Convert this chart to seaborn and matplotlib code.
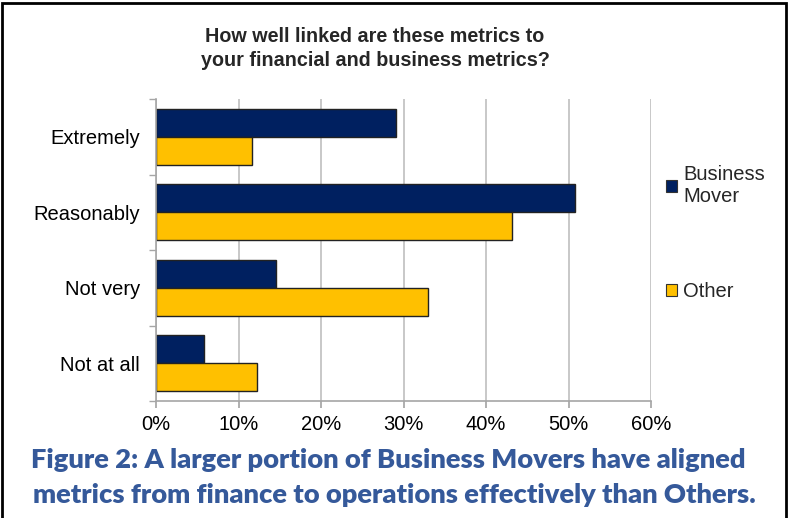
import matplotlib
matplotlib.use("Agg")
import matplotlib.pyplot as plt
import seaborn as sns
import pandas as pd
from matplotlib.patches import Rectangle
from matplotlib.ticker import PercentFormatter

categories = ["Extremely", "Reasonably", "Not very", "Not at all"]
business_mover = [29.1, 50.8, 14.5, 5.8]
other = [11.6, 43.2, 33.0, 12.2]
series_names = ["Business\nMover", "Other"]
x_ticks = [0, 10, 20, 30, 40, 50, 60]

df = pd.DataFrame({
    "Category": categories * 2,
    "Value": business_mover + other,
    "Series": [series_names[0]] * 4 + [series_names[1]] * 4,
})

sns.set_theme(style="white")
plt.rcParams["font.family"] = ["Liberation Sans", "DejaVu Sans"]

fig = plt.figure(figsize=(7.89, 5.18), dpi=100)
ax = fig.add_axes([156 / 789, 1 - 401 / 518, (651 - 156) / 789, (401 - 99) / 518])

sns.barplot(data=df, y="Category", x="Value", hue="Series", orient="h",
            palette=["#002060", "#FFC000"], width=0.74, ax=ax,
            edgecolor="#222222", linewidth=1.0, saturation=1, legend=True)

ax.set_xlim(0, 60)
ax.set_ylim(3.5, -0.5)
ax.set_xticks(x_ticks)
ax.xaxis.set_major_formatter(PercentFormatter(decimals=0))
ax.set_xlabel("")
ax.set_ylabel("")
ax.grid(axis="x", color="#BFBFBF", linewidth=1.2)
ax.set_axisbelow(True)
for s in ["top", "right"]:
    ax.spines[s].set_visible(False)
for s in ["left", "bottom"]:
    ax.spines[s].set_color("#A6A6A6")
    ax.spines[s].set_linewidth(1.2)

ax.tick_params(axis="x", which="major", bottom=True, length=5, color="#A6A6A6",
               labelsize=14.5, pad=5, labelcolor="#000000")
ax.set_yticks([0, 1, 2, 3])
ax.set_yticklabels(categories)
ax.tick_params(axis="y", which="major", left=False, labelsize=14.5, pad=5.5, labelcolor="#000000")
ax.set_yticks([-0.5, 0.5, 1.5, 2.5, 3.5], minor=True)
ax.tick_params(axis="y", which="minor", left=True, length=5, color="#A6A6A6")

leg = ax.legend(loc="upper left", bbox_to_anchor=(1.03, 0.78), frameon=False,
                fontsize=14.5, labelspacing=3.75, handlelength=0.55, handleheight=0.55,
                handletextpad=0.3, borderaxespad=0, borderpad=0)
for h in leg.legend_handles:
    h.set_edgecolor("#333333")
    h.set_linewidth(0.8)

fig.text(375 / 789, 1 - 37 / 518, "How well linked are these metrics to",
         ha="center", va="center", fontsize=14.2, fontweight="bold")
fig.text(375 / 789, 1 - 60 / 518, "your financial and business metrics?",
         ha="center", va="center", fontsize=14.2, fontweight="bold")

cap_color = "#35599A"
fig.text(388 / 789, 1 - 460 / 518,
         "Figure 2: A larger portion of Business Movers have aligned",
         ha="center", va="center", fontsize=19.6, fontweight="heavy",
         color=cap_color, family=["Lato", "DejaVu Sans"])
fig.text(394 / 789, 1 - 495 / 518,
         "metrics from finance to operations effectively than Others.",
         ha="center", va="center", fontsize=19.6, fontweight="heavy",
         color=cap_color, family=["Lato", "DejaVu Sans"])

fig.patches.append(Rectangle((2 / 789, -0.1), 784 / 789, 1.1 - 3 / 518,
                             transform=fig.transFigure, fill=False,
                             edgecolor="black", linewidth=2))

fig.savefig("out.png", dpi=100)
